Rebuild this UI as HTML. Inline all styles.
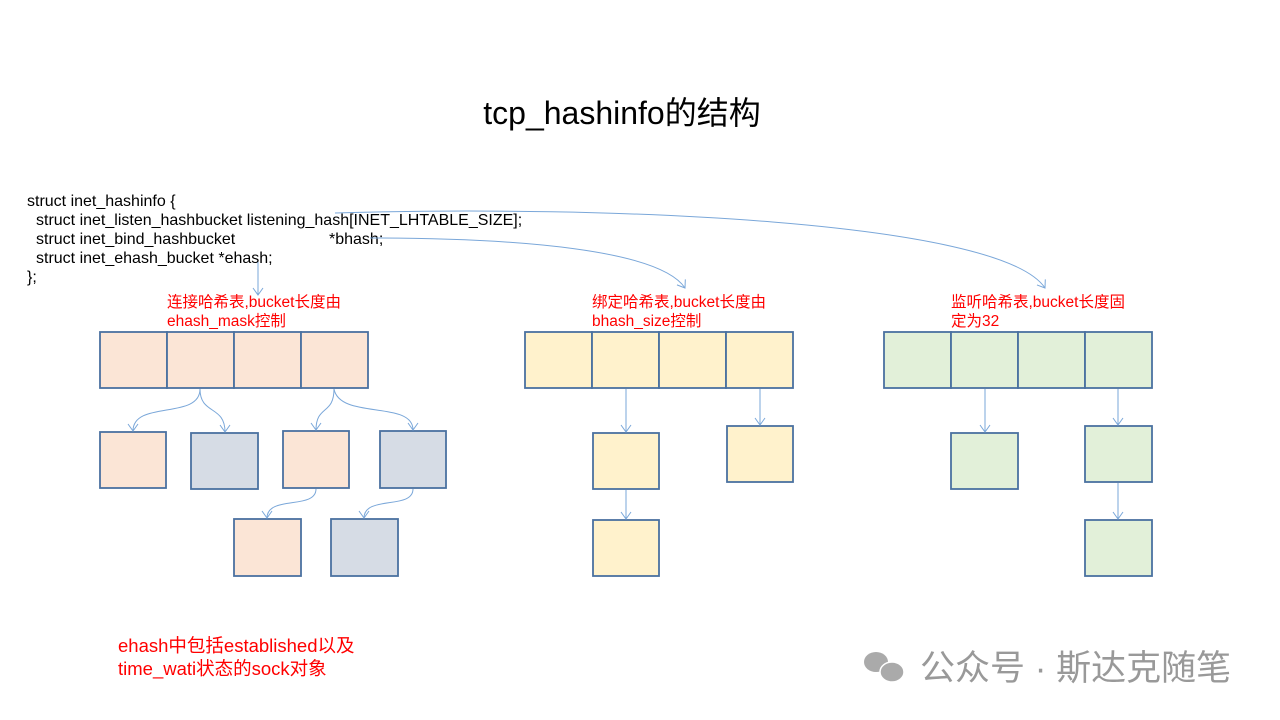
<!DOCTYPE html>
<html><head><meta charset="utf-8"><style>
html,body{margin:0;padding:0;background:#fff;width:1280px;height:720px;overflow:hidden}
text{font-family:"Liberation Sans","Noto Sans CJK SC",sans-serif}
</style></head><body>
<svg width="1280" height="720" xmlns="http://www.w3.org/2000/svg">
<defs>
<marker id="a" markerWidth="12" markerHeight="12" refX="10" refY="6" orient="auto" markerUnits="userSpaceOnUse" viewBox="0 0 12 12">
<path d="M3,1 L10,6 L3,11" fill="none" stroke="#7aa7d9" stroke-width="1"/>
</marker>
</defs>
<text x="622" y="124" font-size="32" text-anchor="middle" fill="#000">tcp_hashinfo的结构</text>
<g font-size="16" fill="#000">
<text x="27" y="206">struct inet_hashinfo {</text>
<text x="36" y="225">struct inet_listen_hashbucket listening_hash[INET_LHTABLE_SIZE];</text>
<text x="36" y="244">struct inet_bind_hashbucket</text>
<text x="329" y="244">*bhash;</text>
<text x="36" y="263">struct inet_ehash_bucket *ehash;</text>
<text x="27" y="282">};</text>
</g>
<g fill="none" stroke="#7aa7d9" stroke-width="1">
<path d="M258,262 L258,295" marker-end="url(#a)"/>
<path d="M370,238 C520,238 660,250 685,288" marker-end="url(#a)"/>
<path d="M335,213 C600,205 1000,220 1045,288" marker-end="url(#a)"/>
</g>
<g font-size="15.5" fill="#ff0000">
<text x="167" y="307">连接哈希表,bucket长度由</text>
<text x="167" y="326">ehash_mask控制</text>
<text x="592" y="307">绑定哈希表,bucket长度由</text>
<text x="592" y="326">bhash_size控制</text>
<text x="951" y="307">监听哈希表,bucket长度固</text>
<text x="951" y="326">定为32</text>
<text x="118" y="652" font-size="18.5">ehash中包括established以及</text>
<text x="118" y="675" font-size="18.5">time_wati状态的sock对象</text>
</g>
<g stroke="#4a71a0" stroke-width="1.8">
<g fill="#fbe5d6">
<rect x="100" y="332" width="67" height="56"/><rect x="167" y="332" width="67" height="56"/><rect x="234" y="332" width="67" height="56"/><rect x="301" y="332" width="67" height="56"/>
<rect x="100" y="432" width="66" height="56"/><rect x="283" y="431" width="66" height="57"/><rect x="234" y="519" width="67" height="57"/>
</g>
<g fill="#d6dce5">
<rect x="191" y="433" width="67" height="56"/><rect x="380" y="431" width="66" height="57"/><rect x="331" y="519" width="67" height="57"/>
</g>
<g fill="#fff2cc">
<rect x="525" y="332" width="67" height="56"/><rect x="592" y="332" width="67" height="56"/><rect x="659" y="332" width="67" height="56"/><rect x="726" y="332" width="67" height="56"/>
<rect x="593" y="433" width="66" height="56"/><rect x="727" y="426" width="66" height="56"/><rect x="593" y="520" width="66" height="56"/>
</g>
<g fill="#e2f0d9">
<rect x="884" y="332" width="67" height="56"/><rect x="951" y="332" width="67" height="56"/><rect x="1018" y="332" width="67" height="56"/><rect x="1085" y="332" width="67" height="56"/>
<rect x="951" y="433" width="67" height="56"/><rect x="1085" y="426" width="67" height="56"/><rect x="1085" y="520" width="67" height="56"/>
</g>
</g>
<g fill="none" stroke="#7aa7d9" stroke-width="1">
<path d="M200,389 C200,420 133,400 133,431" marker-end="url(#a)"/>
<path d="M200,389 C200,415 225,405 225,432" marker-end="url(#a)"/>
<path d="M334,389 C334,415 316,405 316,430" marker-end="url(#a)"/>
<path d="M334,389 C340,420 413,400 413,430" marker-end="url(#a)"/>
<path d="M316,489 C316,510 267,495 267,518" marker-end="url(#a)"/>
<path d="M413,489 C413,510 364,495 364,518" marker-end="url(#a)"/>
<path d="M626,389 L626,432" marker-end="url(#a)"/>
<path d="M760,389 L760,425" marker-end="url(#a)"/>
<path d="M626,490 L626,519" marker-end="url(#a)"/>
<path d="M985,389 L985,432" marker-end="url(#a)"/>
<path d="M1118,389 L1118,425" marker-end="url(#a)"/>
<path d="M1118,483 L1118,519" marker-end="url(#a)"/>
</g>
<g fill="#aaa">
<ellipse cx="876" cy="662" rx="12" ry="10"/>
<ellipse cx="892" cy="672" rx="12" ry="10" stroke="#fff" stroke-width="1.5"/>
</g>
<text x="920" y="680" font-size="35" fill="#999">公众号 · 斯达克随笔</text>
</svg>
</body></html>
